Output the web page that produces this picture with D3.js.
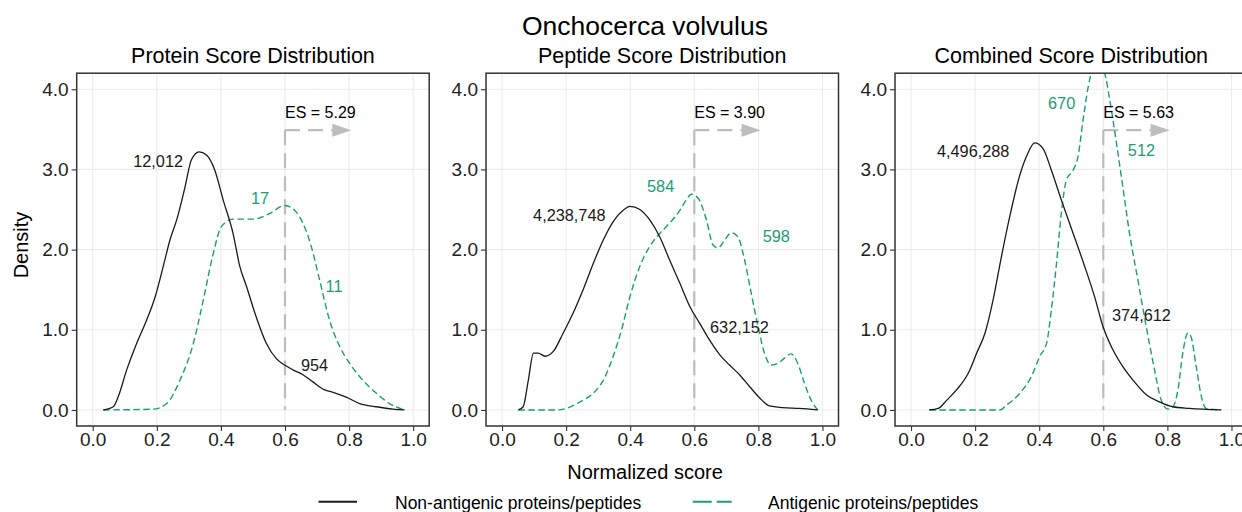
<!DOCTYPE html>
<html>
<head>
<meta charset="utf-8">
<script src="https://cdn.jsdelivr.net/npm/d3@7"></script>
<style>
  html, body { margin: 0; padding: 0; background: #fff; }
  svg { display: block; font-family: "Liberation Sans", Arial, Helvetica, sans-serif; }
</style>
</head>
<body>
<svg id="chart" width="1242" height="512"></svg>
<script>
// ---------------- data ----------------
const chartTitle = "Onchocerca volvulus";
const panelTitles = ["Protein Score Distribution", "Peptide Score Distribution", "Combined Score Distribution"];
const xTicks = [0, 0.2, 0.4, 0.6, 0.8, 1.0];
const yTicks = [0, 1, 2, 3, 4];
const threshold = 0.6;
const esLabels = ["ES = 5.29", "ES = 3.90", "ES = 5.63"];
const seriesNames = ["Non-antigenic proteins/peptides", "Antigenic proteins/peptides"];

// density curves, [score, density]
const proteinNon = [[0.033,0],[0.064,0.04],[0.080,0.17],[0.106,0.50],[0.137,0.83],[0.168,1.12],[0.194,1.40],[0.220,1.79],[0.241,2.12],[0.262,2.37],[0.288,2.78],[0.308,3.12],[0.332,3.22],[0.355,3.18],[0.381,2.99],[0.407,2.62],[0.438,2.20],[0.459,1.79],[0.480,1.54],[0.506,1.21],[0.542,0.83],[0.573,0.64],[0.599,0.56],[0.625,0.50],[0.656,0.44],[0.687,0.35],[0.724,0.25],[0.750,0.22],[0.791,0.16],[0.833,0.08],[0.885,0.04],[0.937,0.01],[0.973,0]];
const proteinAnti = [[0.033,0],[0.189,0.01],[0.231,0.08],[0.272,0.37],[0.314,0.83],[0.345,1.37],[0.376,1.95],[0.402,2.29],[0.438,2.38],[0.501,2.38],[0.552,2.45],[0.599,2.55],[0.630,2.49],[0.656,2.33],[0.682,2.04],[0.708,1.62],[0.739,1.12],[0.771,0.79],[0.802,0.58],[0.843,0.37],[0.885,0.21],[0.926,0.08],[0.973,0]];
const peptideNon = [[0.051,0],[0.066,0.04],[0.082,0.37],[0.098,0.71],[0.113,0.71],[0.134,0.67],[0.160,0.73],[0.191,0.96],[0.222,1.21],[0.253,1.50],[0.285,1.83],[0.316,2.12],[0.347,2.35],[0.378,2.49],[0.399,2.54],[0.430,2.50],[0.461,2.37],[0.492,2.16],[0.523,1.87],[0.555,1.58],[0.586,1.29],[0.617,1.08],[0.648,0.87],[0.679,0.69],[0.710,0.56],[0.741,0.44],[0.773,0.29],[0.804,0.15],[0.835,0.05],[0.876,0.03],[0.928,0.02],[0.985,0]];
const peptideAnti = [[0.051,0],[0.170,0],[0.201,0.02],[0.243,0.10],[0.285,0.21],[0.316,0.37],[0.347,0.67],[0.373,1.00],[0.399,1.41],[0.430,1.79],[0.461,2.04],[0.492,2.20],[0.523,2.33],[0.555,2.49],[0.575,2.62],[0.591,2.69],[0.612,2.64],[0.638,2.37],[0.658,2.06],[0.674,2.02],[0.695,2.12],[0.715,2.21],[0.736,2.16],[0.757,1.87],[0.778,1.45],[0.799,1.04],[0.819,0.71],[0.840,0.56],[0.861,0.58],[0.882,0.65],[0.902,0.70],[0.923,0.58],[0.944,0.33],[0.965,0.12],[0.985,0]];
const combinedNon = [[0.057,0],[0.085,0.02],[0.111,0.12],[0.142,0.25],[0.179,0.46],[0.205,0.71],[0.231,0.96],[0.256,1.37],[0.282,1.91],[0.308,2.41],[0.334,2.85],[0.360,3.16],[0.386,3.33],[0.412,3.26],[0.438,2.99],[0.469,2.62],[0.506,2.20],[0.542,1.79],[0.573,1.41],[0.599,1.04],[0.630,0.75],[0.661,0.54],[0.693,0.37],[0.734,0.19],[0.776,0.10],[0.817,0.04],[0.869,0.02],[0.968,0]];
const combinedAnti = [[0.057,0],[0.277,0],[0.298,0.06],[0.340,0.21],[0.376,0.42],[0.402,0.67],[0.423,0.83],[0.438,1.25],[0.454,1.83],[0.469,2.45],[0.485,2.87],[0.506,2.99],[0.521,3.16],[0.537,3.62],[0.553,4.03],[0.568,4.26],[0.584,4.30],[0.604,4.20],[0.620,3.87],[0.641,3.33],[0.661,2.78],[0.682,2.20],[0.708,1.62],[0.734,1.04],[0.760,0.50],[0.781,0.12],[0.802,0.01],[0.817,0.04],[0.833,0.25],[0.848,0.71],[0.864,0.96],[0.874,0.91],[0.890,0.54],[0.906,0.17],[0.921,0.02],[0.968,0]];

// count annotations, [score, density, text, series index]
const proteinCounts = [[0.204,3.10,"12,012",0],[0.692,0.56,"954",0],[0.522,2.64,"17",1],[0.753,1.54,"11",1]];
const peptideCounts = [[0.210,2.43,"4,238,748",0],[0.741,1.03,"632,152",0],[0.495,2.79,"584",1],[0.856,2.16,"598",1]];
const combinedCounts = [[0.194,3.23,"4,496,288",0],[0.719,1.18,"374,612",0],[0.470,3.82,"670",1],[0.719,3.24,"512",1]];

const panels = [
  { title: panelTitles[0], non: proteinNon, anti: proteinAnti, counts: proteinCounts, es: esLabels[0] },
  { title: panelTitles[1], non: peptideNon, anti: peptideAnti, counts: peptideCounts, es: esLabels[1] },
  { title: panelTitles[2], non: combinedNon, anti: combinedAnti, counts: combinedCounts, es: esLabels[2] }
];

// ---------------- layout & style ----------------
const seriesColors = ["#1a1a1a", "#1b9e77"];
const panelLefts = [76.7, 486, 895];
const panelW = 352.5;
const panelTop = 73.2, panelBottom = 426;
const esTop = 3.49, esArrowEnd = 0.807, esTextY = 3.64;

const svg = d3.select("#chart");

svg.append("text")
  .attr("x", 645).attr("y", 34.5)
  .attr("text-anchor", "middle")
  .attr("font-size", 26.5).attr("fill", "#000")
  .text(chartTitle);

svg.append("text")
  .attr("x", 645).attr("y", 478.5)
  .attr("text-anchor", "middle")
  .attr("font-size", 20).attr("fill", "#000")
  .text("Normalized score");

svg.append("text")
  .attr("transform", "translate(28,245) rotate(-90)")
  .attr("text-anchor", "middle")
  .attr("font-size", 20).attr("fill", "#000")
  .text("Density");

const defs = svg.append("defs");

panels.forEach((p, i) => {
  const left = panelLefts[i];
  const x = d3.scaleLinear().domain([-0.05, 1.05]).range([left, left + panelW]);
  const y = d3.scaleLinear().domain([-0.2, 4.2]).range([panelBottom, panelTop]);
  const g = svg.append("g");

  // panel title
  g.append("text")
    .attr("x", left + panelW / 2).attr("y", 63)
    .attr("text-anchor", "middle")
    .attr("font-size", 21.5).attr("fill", "#000")
    .text(p.title);

  // grid
  g.append("g").selectAll("line").data(xTicks).join("line")
    .attr("x1", d => x(d)).attr("x2", d => x(d))
    .attr("y1", panelTop).attr("y2", panelBottom)
    .attr("stroke", "#ebebeb").attr("stroke-width", 1.1);
  g.append("g").selectAll("line").data(yTicks).join("line")
    .attr("x1", left).attr("x2", left + panelW)
    .attr("y1", d => y(d)).attr("y2", d => y(d))
    .attr("stroke", "#ebebeb").attr("stroke-width", 1.1);

  const clipId = "clip" + i;
  defs.append("clipPath").attr("id", clipId)
    .append("rect").attr("x", left).attr("y", panelTop)
    .attr("width", panelW).attr("height", panelBottom - panelTop);

  const plot = g.append("g").attr("clip-path", `url(#${clipId})`);

  // threshold marker with arrow
  const esColor = "#bdbdbd";
  plot.append("line")
    .attr("x1", x(threshold)).attr("x2", x(threshold))
    .attr("y1", y(esTop)).attr("y2", y(0))
    .attr("stroke", esColor).attr("stroke-width", 2.2)
    .attr("stroke-dasharray", "15,8");
  const arrowLen = 19, arrowHalf = 6.5;
  const tipX = x(esArrowEnd), baseY = y(esTop);
  plot.append("line")
    .attr("x1", x(threshold)).attr("x2", tipX - arrowLen)
    .attr("y1", baseY).attr("y2", baseY)
    .attr("stroke", esColor).attr("stroke-width", 2.2)
    .attr("stroke-dasharray", "15,8");
  plot.append("path")
    .attr("d", `M${tipX},${baseY} L${tipX - arrowLen},${baseY - arrowHalf} L${tipX - arrowLen},${baseY + arrowHalf} Z`)
    .attr("fill", esColor);

  // density curves
  const line = d3.line().x(d => x(d[0])).y(d => y(d[1])).curve(d3.curveMonotoneX);
  plot.append("path").datum(p.anti)
    .attr("d", line).attr("fill", "none")
    .attr("stroke", seriesColors[1]).attr("stroke-width", 1.4)
    .attr("stroke-dasharray", "6.5,3.5");
  plot.append("path").datum(p.non)
    .attr("d", line).attr("fill", "none")
    .attr("stroke", seriesColors[0]).attr("stroke-width", 1.3);

  // ES label
  g.append("text")
    .attr("x", x(threshold)).attr("y", y(esTextY))
    .attr("font-size", 16).attr("fill", "#000")
    .text(p.es);

  // counts
  g.append("g").selectAll("text").data(p.counts).join("text")
    .attr("x", d => x(d[0])).attr("y", d => y(d[1]))
    .attr("dy", "0.35em")
    .attr("text-anchor", "middle")
    .attr("font-size", 16.3)
    .attr("fill", d => seriesColors[d[3]])
    .text(d => d[2]);

  // panel border
  g.append("rect")
    .attr("x", left).attr("y", panelTop)
    .attr("width", panelW).attr("height", panelBottom - panelTop)
    .attr("fill", "none").attr("stroke", "#333").attr("stroke-width", 1.5);

  // axes
  const xAxis = g.append("g").attr("transform", `translate(0,${panelBottom})`)
    .call(d3.axisBottom(x).tickValues(xTicks).tickFormat(d3.format(".1f")).tickSize(5).tickPadding(2));
  const yAxis = g.append("g").attr("transform", `translate(${left},0)`)
    .call(d3.axisLeft(y).tickValues(yTicks).tickFormat(d3.format(".1f")).tickSize(5).tickPadding(3));
  [xAxis, yAxis].forEach(a => {
    a.select(".domain").remove();
    a.selectAll(".tick line").attr("stroke", "#333").attr("stroke-width", 1.1);
    a.selectAll(".tick text").attr("font-size", 19).attr("fill", "#222")
      .attr("font-family", "Liberation Sans, Arial, sans-serif");
  });
});

// legend
const legend = svg.append("g");
legend.append("line").attr("x1", 318.5).attr("x2", 357).attr("y1", 501.7).attr("y2", 501.7)
  .attr("stroke", seriesColors[0]).attr("stroke-width", 2);
legend.append("text").attr("x", 395).attr("y", 508.5)
  .attr("font-size", 17.5).attr("fill", "#000").text(seriesNames[0]);
legend.append("line").attr("x1", 692.7).attr("x2", 731.7).attr("y1", 501.7).attr("y2", 501.7)
  .attr("stroke", seriesColors[1]).attr("stroke-width", 2).attr("stroke-dasharray", "19,5");
legend.append("text").attr("x", 768).attr("y", 508.5)
  .attr("font-size", 17.5).attr("fill", "#000").text(seriesNames[1]);
</script>
</body>
</html>
